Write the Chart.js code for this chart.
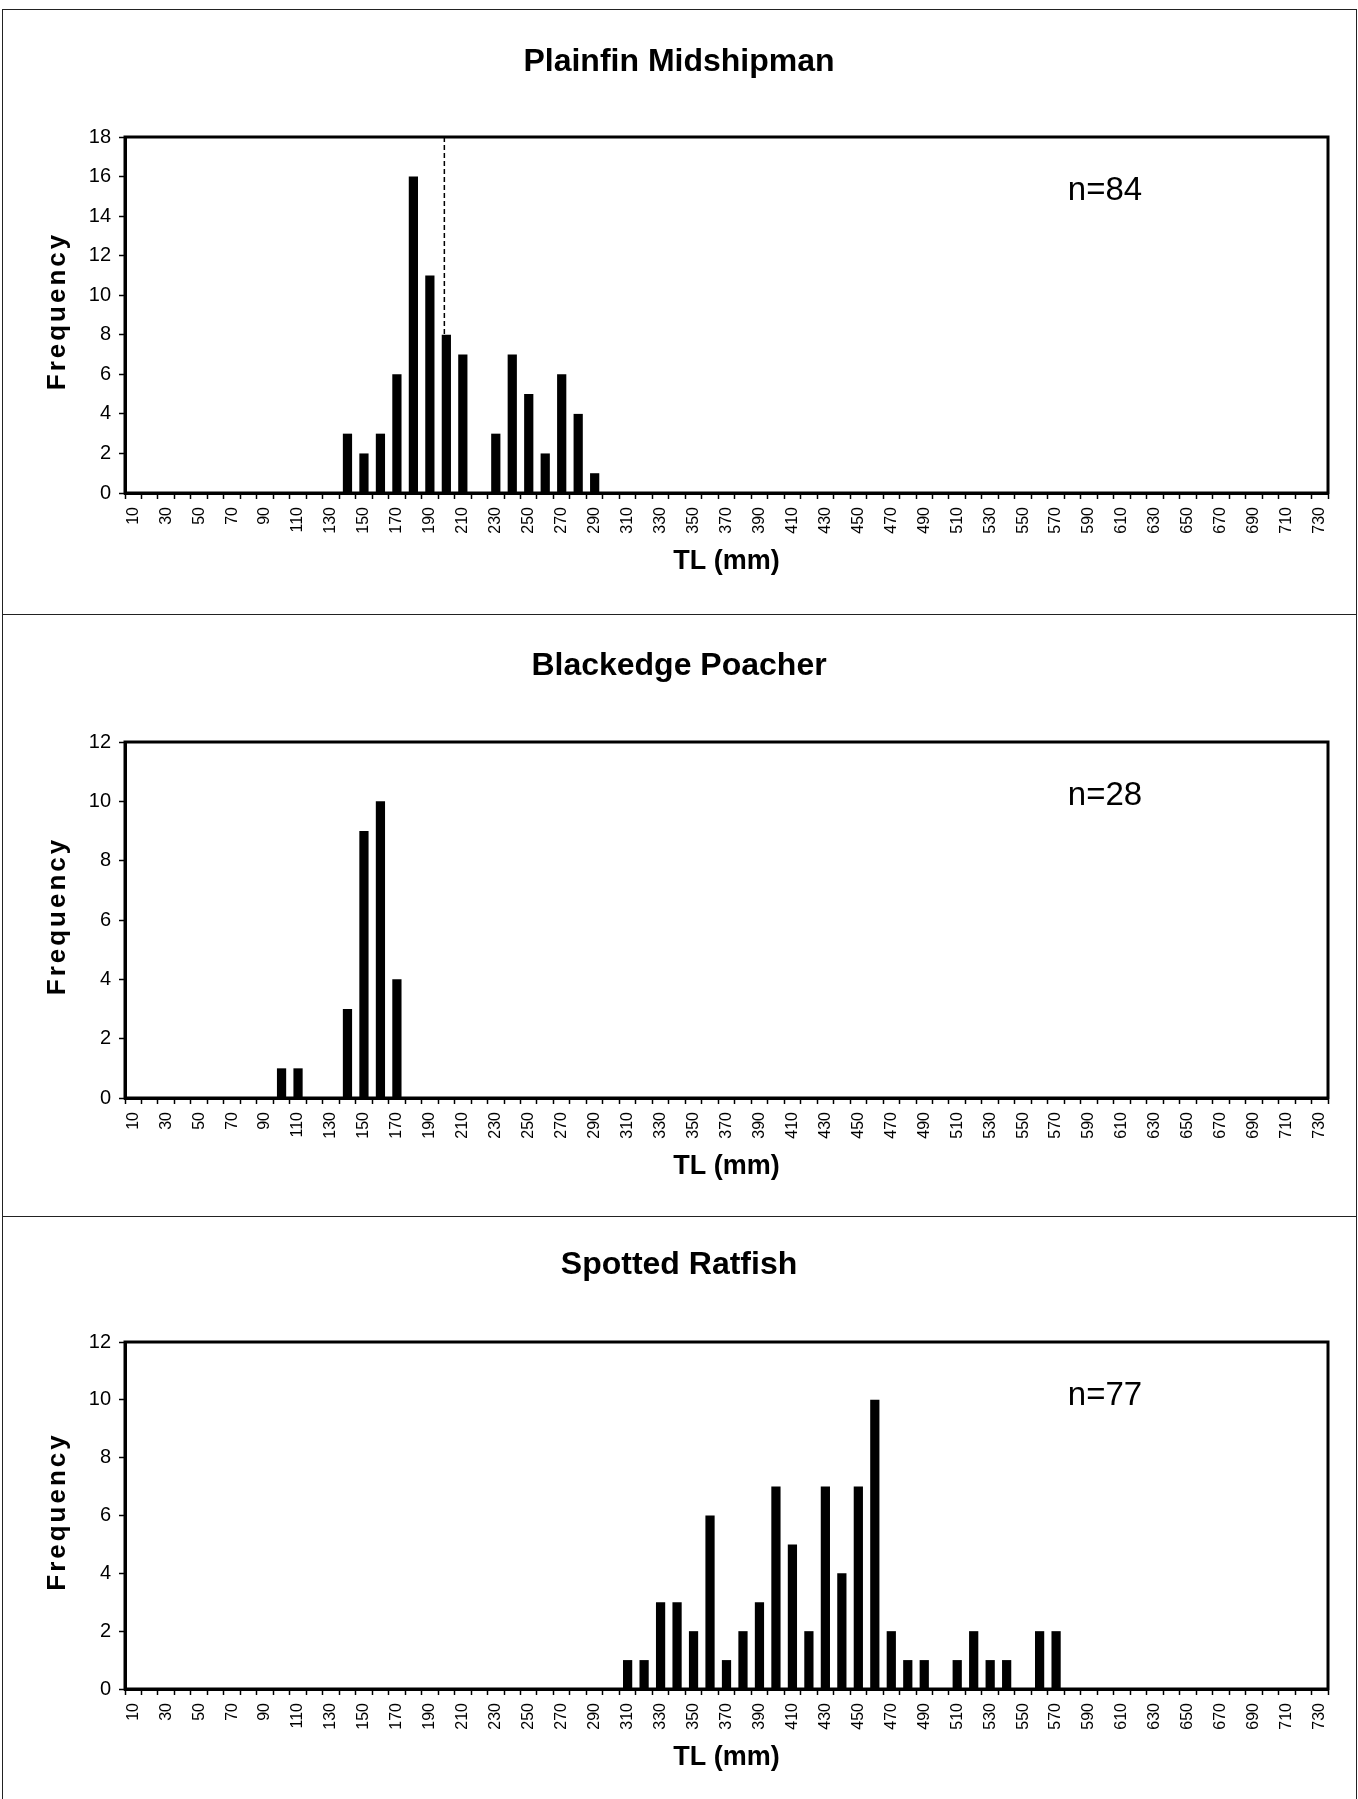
<!DOCTYPE html>
<html>
<head>
<meta charset="utf-8">
<script src="https://cdn.jsdelivr.net/npm/chart.js@4/dist/chart.umd.min.js"></script>
<style>
  html, body { margin: 0; padding: 0; background: #fff; }
  #page { position: relative; width: 1358px; height: 1799px; overflow: hidden; background: #fff; }
  #page canvas { position: absolute; left: 0; }
  .rule { position: absolute; background: #222; }
</style>
</head>
<body>
<div id="page">
  <div class="rule" style="left:2px; top:9px; width:1355px; height:1px"></div>
  <div class="rule" style="left:2px; top:9px; width:1px; height:1790px"></div>
  <div class="rule" style="left:1356px; top:9px; width:1px; height:1790px"></div>
  <div class="rule" style="left:2px; top:614px; width:1355px; height:1px"></div>
  <div class="rule" style="left:2px; top:1216px; width:1355px; height:1px"></div>
  <canvas id="midshipman" width="1358" height="614" style="top:0"></canvas>
  <canvas id="poacher" width="1358" height="602" style="top:614px"></canvas>
  <canvas id="ratfish" width="1358" height="583" style="top:1216px"></canvas>
</div>
<script>
const FONT = '"Liberation Sans", Arial, Helvetica, sans-serif'

// length classes (mm), one bar slot each
const lengthBins = [
  '10', '20', '30', '40', '50', '60', '70', '80', '90', '100',
  '110', '120', '130', '140', '150', '160', '170', '180', '190', '200',
  '210', '220', '230', '240', '250', '260', '270', '280', '290', '300',
  '310', '320', '330', '340', '350', '360', '370', '380', '390', '400',
  '410', '420', '430', '440', '450', '460', '470', '480', '490', '500',
  '510', '520', '530', '540', '550', '560', '570', '580', '590', '600',
  '610', '620', '630', '640', '650', '660', '670', '680', '690', '700',
  '710', '720', '730'
]

// Plainfin Midshipman
const midshipmanLengths = [140, 150, 160, 170, 180, 190, 200, 210, 220, 230, 240, 250, 260, 270, 280, 290]
const midshipmanCounts = [3, 2, 3, 6, 16, 11, 8, 7, 0, 3, 7, 5, 2, 6, 4, 1]

// Blackedge Poacher
const poacherLengths = [100, 110, 140, 150, 160, 170]
const poacherCounts = [1, 1, 3, 9, 10, 4]

// Spotted Ratfish
const ratfishLengths = [310, 320, 330, 340, 350, 360, 370, 380, 390, 400, 410, 420, 430,
  440, 450, 460, 470, 480, 490, 510, 520, 530, 540, 560, 570]
const ratfishCounts = [1, 1, 3, 3, 2, 6, 1, 2, 3, 7, 5, 2, 7,
  4, 7, 10, 2, 1, 1, 1, 2, 1, 1, 2, 2]

const panelText = {
  id: 'panelText',
  beforeDatasetsDraw (chart, args, opts) {
    if (opts.markAt == null) return
    const { ctx, chartArea: a, scales } = chart
    const x = scales.x.getPixelForValue(lengthBins.indexOf(String(opts.markAt))) - 2
    ctx.save()
    ctx.strokeStyle = '#000'
    ctx.lineWidth = 1.5
    ctx.setLineDash([5, 3])
    ctx.beginPath()
    ctx.moveTo(x, a.top)
    ctx.lineTo(x, scales.y.getPixelForValue(0))
    ctx.stroke()
    ctx.restore()
  },
  afterDraw (chart, args, opts) {
    const { ctx, chartArea: a } = chart
    ctx.save()
    ctx.strokeStyle = '#000'
    ctx.lineWidth = 3
    ctx.strokeRect(a.left, a.top, a.right - a.left, a.bottom - a.top)

    ctx.fillStyle = '#000'
    ctx.textAlign = 'center'
    ctx.textBaseline = 'middle'
    ctx.font = 'bold 32px ' + FONT
    ctx.fillText(opts.title, chart.width / 2, a.top - opts.titleGap)

    ctx.font = '33px ' + FONT
    ctx.fillText(opts.n, a.right - 223, a.top + 54)

    ctx.font = 'bold 27px ' + FONT
    ctx.fillText('TL (mm)', (a.left + a.right) / 2, a.bottom + 69)

    ctx.translate(58, (a.top + a.bottom) / 2 - 4)
    ctx.rotate(-Math.PI / 2)
    ctx.font = 'bold 26px ' + FONT
    ctx.letterSpacing = '3px'
    ctx.fillText('Frequency', 0, 0)
    ctx.restore()
  }
}

function renderLengthChart (canvasId, cfg) {
  const data = cfg.lengths.map((len, i) => ({ x: String(len), y: cfg.counts[i] }))
  return new Chart(document.getElementById(canvasId), {
    type: 'bar',
    data: {
      labels: lengthBins,
      datasets: [{
        data,
        backgroundColor: '#000',
        borderWidth: 0,
        barPercentage: 0.56,
        categoryPercentage: 1.0
      }]
    },
    options: {
      responsive: false,
      animation: false,
      layout: { padding: { left: 65, right: 30, top: cfg.top, bottom: cfg.bottom } },
      plugins: {
        legend: { display: false },
        tooltip: { enabled: false },
        panelText: { title: cfg.title, n: cfg.n, titleGap: cfg.titleGap, markAt: cfg.markAt }
      },
      scales: {
        x: {
          offset: true,
          grid: { offset: true, drawOnChartArea: false, tickLength: 6, tickColor: '#000', tickWidth: 1.5 },
          border: { display: true, color: '#000', width: 3 },
          ticks: {
            autoSkip: false,
            maxRotation: 90,
            minRotation: 90,
            padding: 8,
            color: '#000',
            font: { family: FONT, size: 16 },
            callback: (v, i) => (i % 2 === 0 ? lengthBins[i] : '')
          },
          afterFit: (s) => { s.height = 60 }
        },
        y: {
          min: 0,
          max: cfg.yMax,
          grid: { drawOnChartArea: false, tickLength: 6, tickColor: '#000', tickWidth: 1.5 },
          border: { display: true, color: '#000', width: 3 },
          ticks: { stepSize: 2, padding: 8, color: '#000', font: { family: FONT, size: 20 } },
          afterFit: (s) => { s.width = 60 }
        }
      }
    },
    plugins: [panelText]
  })
}

renderLengthChart('midshipman', {
  title: 'Plainfin Midshipman', n: 'n=84', lengths: midshipmanLengths, counts: midshipmanCounts,
  yMax: 18, top: 137, bottom: 61, titleGap: 75, markAt: 200
})
renderLengthChart('poacher', {
  title: 'Blackedge Poacher', n: 'n=28', lengths: poacherLengths, counts: poacherCounts,
  yMax: 12, top: 128, bottom: 58, titleGap: 76
})
renderLengthChart('ratfish', {
  title: 'Spotted Ratfish', n: 'n=77', lengths: ratfishLengths, counts: ratfishCounts,
  yMax: 12, top: 126, bottom: 50, titleGap: 77
})
</script>
</body>
</html>
